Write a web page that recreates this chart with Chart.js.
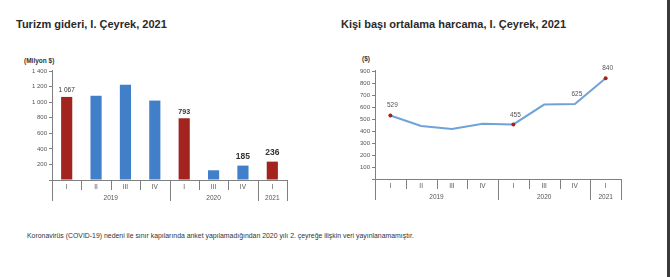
<!DOCTYPE html>
<html lang="tr">
<head>
<meta charset="utf-8">
<script src="https://cdn.jsdelivr.net/npm/chart.js@4.4.1/dist/chart.umd.min.js"></script>
<style>
  body { margin: 0; width: 670px; height: 277px; background: #fff; position: relative; overflow: hidden;
         font-family: "Liberation Sans", Arial, sans-serif; }
  .baslik { position: absolute; top: 18px; font-weight: bold; font-size: 11px; color: #2a2a2a; white-space: nowrap; }
  .birim { position: absolute; font-weight: bold; font-size: 6.5px; color: #333; }
  canvas { position: absolute; top: 0; }
  #not { position: absolute; left: 27px; top: 232px; font-size: 6.9px; color: #333; white-space: nowrap; }
  #kenar { position: absolute; right: 0; top: 0; width: 3px; height: 277px; background: #3a3a3a; }
</style>
</head>
<body>
<div class="baslik" style="left:16px">Turizm gideri, I. Çeyrek, 2021</div>
<div class="baslik" style="left:341px">Kişi başı ortalama harcama, I. Çeyrek, 2021</div>
<div class="birim" style="left:24px;top:57px">(Milyon $)</div>
<div class="birim" style="left:362px;top:55px">($)</div>
<canvas id="gider" width="335" height="215" style="left:0"></canvas>
<canvas id="harcama" width="335" height="215" style="left:335px"></canvas>
<div id="not">Koronavirüs (COVID-19) nedeni ile sınır kapılarında anket yapılamadığından 2020 yılı 2. çeyreğe ilişkin veri yayınlanamamıştır.</div>
<div id="kenar"></div>
<script>
// veriler
const ceyrekler = ['I', 'II', 'III', 'IV', 'I', 'III', 'IV', 'I'];
const yillar = ['2019', '2020', '2021'];
const yilCeyrekSayisi = [4, 3, 1];
const turizmGideri = [1067, 1082, 1225, 1020, 793, 125, 185, 236];
const giderEtiketleri = ['1 067', null, null, null, '793', null, '185', '236'];
const kisiBasiHarcama = [529, 442, 416, 460, 455, 620, 625, 840];
const harcamaEtiketleri = ['529', null, null, null, '455', null, '625', '840'];

const KIRMIZI = '#a3231f';
const MAVI = '#4180c8';
const EKSEN = '#808080';

Chart.defaults.font.family = '"Liberation Sans", Arial, sans-serif';
Chart.defaults.color = '#555';

const binlik = v => String(v).replace(/\B(?=(\d{3})+$)/g, ' ');

// alt eksen ayraçları, yıl etiketleri ve değer etiketleri
const eksenPlugin = {
  id: 'eksen',
  afterDraw(chart, args, opts) {
    const { ctx, chartArea: a, scales: { x } } = chart;
    ctx.save();
    ctx.strokeStyle = EKSEN;
    ctx.lineWidth = 1;

    const gruplar = [0];
    yilCeyrekSayisi.forEach(n => gruplar.push(gruplar[gruplar.length - 1] + n));

    for (let i = 0; i <= ceyrekler.length; i++) {
      const px = Math.round(x.getPixelForValue(i - 0.5)) + 0.5;
      const uzun = gruplar.includes(i);
      ctx.beginPath();
      ctx.moveTo(px, i === 0 ? a.top - 1 : a.bottom);
      ctx.lineTo(px, a.bottom + (uzun ? 21 : 10));
      ctx.stroke();
    }

    ctx.fillStyle = '#555';
    ctx.font = '6.5px "Liberation Sans", Arial, sans-serif';
    ctx.textAlign = 'center';
    ctx.textBaseline = 'middle';
    yillar.forEach((y, k) => {
      const bas = x.getPixelForValue(gruplar[k] - 0.5);
      const son = x.getPixelForValue(gruplar[k + 1] - 0.5);
      ctx.fillText(y, (bas + son) / 2, a.bottom + 18);
    });

    const meta = chart.getDatasetMeta(0);
    opts.etiketler.forEach((t, i) => {
      if (!t) return;
      const el = meta.data[i];
      ctx.font = opts.yazi(i);
      ctx.fillStyle = opts.renk;
      ctx.fillText(t, el.x + opts.dx, el.y - opts.dy(i));
    });
    ctx.restore();
  }
};

function ortakOlcekler(maks, adim, sol, alt) {
  return {
    x: {
      grid: { display: false, drawTicks: false },
      border: { display: true, color: EKSEN },
      ticks: { padding: 3, font: { size: 6.5 }, color: '#555', maxRotation: 0, autoSkip: false },
      afterFit: s => { s.height = alt; }
    },
    y: {
      min: 0, max: maks,
      grid: { display: true, drawOnChartArea: false, drawTicks: true, tickLength: 3, color: EKSEN },
      border: { display: true, color: EKSEN },
      ticks: { stepSize: adim, padding: 2, font: { size: 6 }, color: '#555',
               callback: v => v === 0 ? '' : binlik(v) },
      afterFit: s => { s.width = sol; }
    }
  };
}

new Chart(document.getElementById('gider'), {
  type: 'bar',
  data: {
    labels: ceyrekler,
    datasets: [{
      data: turizmGideri,
      backgroundColor: c => ceyrekler[c.dataIndex] === 'I' ? KIRMIZI : MAVI,
      categoryPercentage: 1,
      barPercentage: 0.38
    }]
  },
  options: {
    responsive: false,
    animation: false,
    layout: { padding: { left: 0, right: 48, top: 71, bottom: 0 } },
    scales: ortakOlcekler(1400, 200, 52, 35),
    plugins: {
      legend: { display: false },
      tooltip: { enabled: false },
      eksen: {
        etiketler: giderEtiketleri,
        renk: '#333',
        dx: 0,
        dy: i => i >= 6 ? 9 : 6.5,
        yazi: i => i >= 6 ? 'bold 8.5px "Liberation Sans", Arial, sans-serif'
                          : (i === 4 ? 'bold 7px "Liberation Sans", Arial, sans-serif'
                                     : '6.5px "Liberation Sans", Arial, sans-serif')
      }
    }
  },
  plugins: [eksenPlugin]
});

new Chart(document.getElementById('harcama'), {
  type: 'line',
  data: {
    labels: ceyrekler,
    datasets: [{
      data: kisiBasiHarcama,
      borderColor: '#6fa3d8',
      borderWidth: 2,
      tension: 0,
      pointRadius: c => [0, 4, 7].includes(c.dataIndex) ? 2 : 0,
      pointBackgroundColor: KIRMIZI,
      pointBorderWidth: 0
    }]
  },
  options: {
    responsive: false,
    animation: false,
    layout: { padding: { left: 0, right: 49, top: 71, bottom: 0 } },
    scales: (() => {
      const s = ortakOlcekler(900, 100, 40, 36);
      s.x.offset = true;
      return s;
    })(),
    plugins: {
      legend: { display: false },
      tooltip: { enabled: false },
      eksen: {
        etiketler: harcamaEtiketleri,
        renk: '#555',
        dx: 2,
        dy: i => i === 4 ? 9.5 : 10,
        yazi: () => '6.5px "Liberation Sans", Arial, sans-serif'
      }
    }
  },
  plugins: [eksenPlugin]
});
</script>
</body>
</html>
